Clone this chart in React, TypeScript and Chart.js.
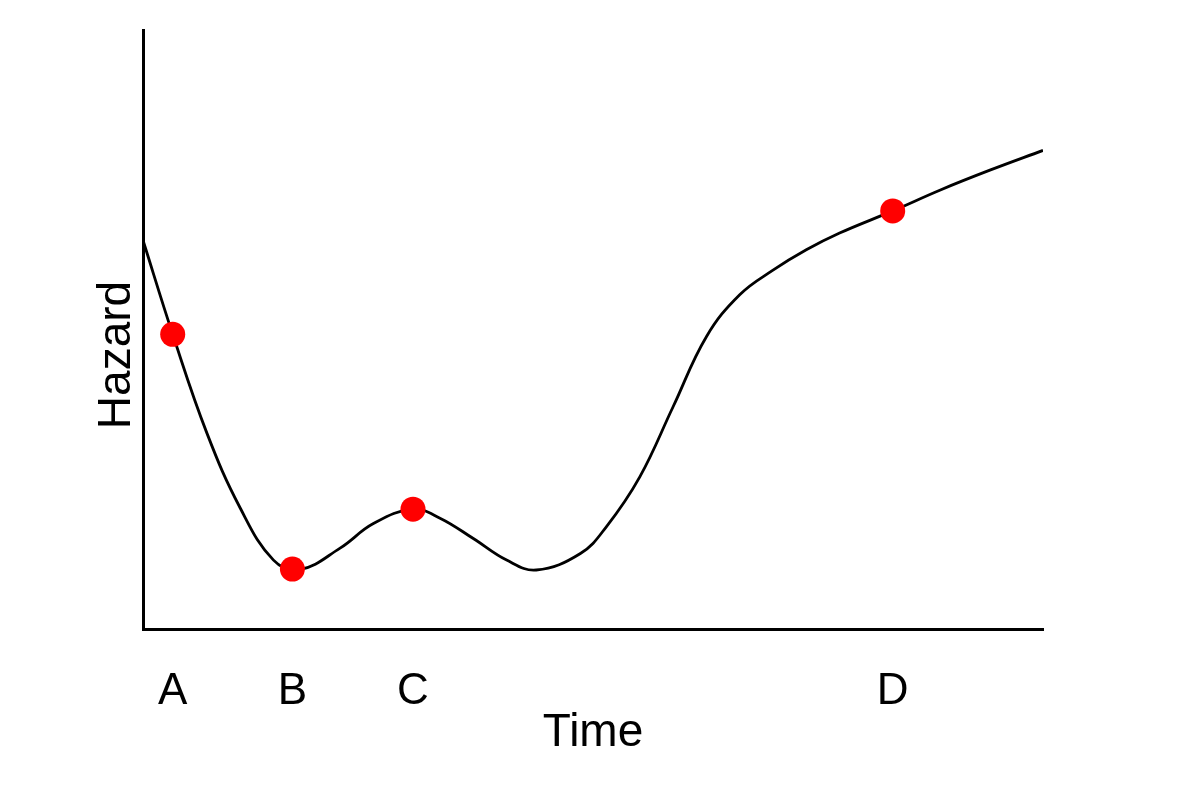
import { useEffect, useRef } from "react";
import { Chart, registerables, Plugin } from "chart.js";

Chart.register(...registerables);

/* ---------------- Data ---------------- */

// curve of hazard over time (x: 0-100, y: 0-100)
const curveX = [0, 3.3, 7.1, 10.8, 14.5, 17.4, 21.9, 25.6, 30.0, 33.0, 36.7, 40.4, 43.7, 48.6, 51.5, 55.2, 58.9, 62.6, 66.3, 70.0, 73.7, 77.4, 83.3, 88.6, 94.1, 100];
const curveY = [64.9, 49.2, 32.7, 20.2, 11.5, 9.9, 13.5, 17.6, 20.0, 18.5, 15.1, 11.5, 9.85, 12.6, 17.1, 25.4, 37.1, 48.8, 55.8, 59.9, 63.3, 66.1, 69.8, 73.3, 76.6, 79.9];

// marked moments
const markLabels = ["A", "B", "C", "D"];
const markX = [3.3, 16.6, 30.0, 83.3];
const markY = [49.2, 10.0, 20.0, 69.8];

const FONT = "'Liberation Sans', Arial, sans-serif";

/* ---------------- Component ---------------- */

const hazardTitle: Plugin = {
  id: "hazardTitle",
  afterDraw: (chart) => {
    const ctx = chart.ctx;
    ctx.save();
    ctx.translate(130, 355);
    ctx.rotate(-Math.PI / 2);
    ctx.font = `46px ${FONT}`;
    ctx.fillStyle = "#000";
    ctx.textAlign = "center";
    ctx.textBaseline = "alphabetic";
    ctx.fillText("Hazard", 0, 0);
    ctx.restore();
  },
};

const App = () => {
  const canvasRef = useRef<HTMLCanvasElement | null>(null);

  useEffect(() => {
    if (!canvasRef.current) return;

    const chart = new Chart(canvasRef.current, {
      type: "line",
      data: {
        datasets: [
          {
            label: "marks",
            data: markX.map((x, i) => ({ x, y: markY[i] })),
            showLine: false,
            pointRadius: 12.5,
            pointBackgroundColor: "#ff0000",
            pointBorderWidth: 0,
            order: 0,
          },
          {
            label: "hazard",
            data: curveX.map((x, i) => ({ x, y: curveY[i] })),
            borderColor: "#000",
            borderWidth: 2.8,
            pointRadius: 0,
            tension: 0.4,
            fill: false,
            order: 1,
          },
        ],
      },
      options: {
        animation: false,
        responsive: false,
        devicePixelRatio: 1,
        layout: {
          autoPadding: false,
          padding: { top: 30, right: 142, bottom: 0, left: 0 },
        },
        plugins: {
          legend: { display: false },
          tooltip: { enabled: false },
        },
        scales: {
          x: {
            type: "linear",
            min: 0,
            max: 100,
            grid: { display: false, drawTicks: false },
            border: { color: "#000", width: 3 },
            afterFit: (scale) => {
              scale.height = 173;
            },
            afterBuildTicks: (scale) => {
              scale.ticks = markX.map((v) => ({ value: v }));
            },
            ticks: {
              padding: 36,
              color: "#000",
              font: { family: FONT, size: 44 },
              maxRotation: 0,
              autoSkip: false,
              callback: (_v, i) => markLabels[i],
            },
            title: {
              display: true,
              text: "Time",
              color: "#000",
              font: { family: FONT, size: 46 },
              padding: { top: 0, bottom: 41 },
            },
          },
          y: {
            type: "linear",
            min: 0,
            max: 100,
            grid: { display: false, drawTicks: false },
            border: { color: "#000", width: 3 },
            ticks: { display: false },
            afterFit: (scale) => {
              scale.width = 143;
            },
          },
        },
      },
      plugins: [hazardTitle],
    });

    return () => {
      chart.destroy();
    };
  }, []);

  return (
    <div style={{ position: "fixed", left: 0, top: 0, width: 1185, height: 802, background: "#fff" }}>
      <canvas ref={canvasRef} width={1185} height={802}></canvas>
    </div>
  );
};

export default App;
